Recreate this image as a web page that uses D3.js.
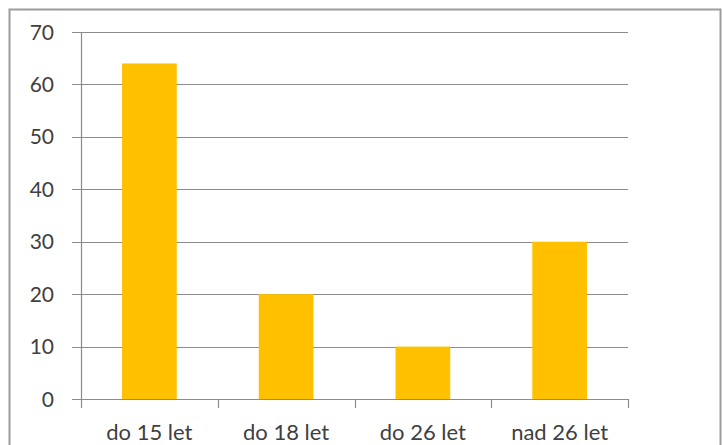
<!DOCTYPE html>
<html>
<head>
<meta charset="utf-8">
<script src="https://cdn.jsdelivr.net/npm/d3@7"></script>
<style>
  body { margin: 0; background: #fff; }
  svg { display: block; font-family: Lato, "Open Sans", sans-serif; }
</style>
</head>
<body>
<svg></svg>
<script>
let categories = ["do 15 let", "do 18 let", "do 26 let", "nad 26 let"];
let values = [64, 20, 10, 30];
let yTicks = [0, 10, 20, 30, 40, 50, 60, 70];

let width = 722;
let height = 445;
let plotLeft = 81;
let plotRight = 628;
let plotTop = 32;
let plotBottom = 399;

let svg = d3.select("svg")
    .attr("width", width)
    .attr("height", height);

// outer frame
svg.append("rect")
    .attr("x", 9.5)
    .attr("y", 9.5)
    .attr("width", 711)
    .attr("height", 460)
    .attr("fill", "none")
    .attr("stroke", "#9c9c9c")
    .attr("stroke-width", 2);

let xScale = d3.scaleBand()
    .domain(categories)
    .range([plotLeft, plotRight])
    .paddingInner(0.6)
    .paddingOuter(0.3);

let yScale = d3.scaleLinear()
    .domain([0, 70])
    .range([plotBottom, plotTop]);

// gridlines
svg.append("g")
    .selectAll("line")
    .data(yTicks)
    .enter()
    .append("line")
    .attr("x1", plotLeft - 9)
    .attr("x2", plotRight)
    .attr("y1", (d) => Math.round(yScale(d)) + 0.5)
    .attr("y2", (d) => Math.round(yScale(d)) + 0.5)
    .attr("stroke", "#8c8c8c")
    .attr("stroke-width", 1.2);

// y labels
svg.append("g")
    .selectAll("text")
    .data(yTicks)
    .enter()
    .append("text")
    .attr("x", 54)
    .attr("y", (d) => yScale(d))
    .attr("dy", "0.36em")
    .attr("text-anchor", "end")
    .attr("fill", "#404040")
    .style("font-size", "21px")
    .text((d) => d);

// bars
svg.append("g")
    .selectAll("rect")
    .data(values)
    .enter()
    .append("rect")
    .attr("x", (d, i) => xScale(categories[i]))
    .attr("width", xScale.bandwidth())
    .attr("y", (d) => yScale(d))
    .attr("height", (d) => yScale(0) - yScale(d))
    .attr("fill", "#ffc000");

// y axis line
svg.append("line")
    .attr("x1", plotLeft + 0.5)
    .attr("x2", plotLeft + 0.5)
    .attr("y1", plotTop)
    .attr("y2", plotBottom)
    .attr("stroke", "#8c8c8c")
    .attr("stroke-width", 1.2);

// x axis ticks at category boundaries
let boundaries = d3.range(categories.length + 1).map((i) => plotLeft + i * (plotRight - plotLeft) / categories.length);
svg.append("g")
    .selectAll("line")
    .data(boundaries)
    .enter()
    .append("line")
    .attr("x1", (d) => Math.round(d) + 0.5)
    .attr("x2", (d) => Math.round(d) + 0.5)
    .attr("y1", plotBottom)
    .attr("y2", plotBottom + 9)
    .attr("stroke", "#8c8c8c")
    .attr("stroke-width", 1.2);

svg.append("g")
    .selectAll("text")
    .data(categories)
    .enter()
    .append("text")
    .attr("x", (d) => xScale(d) + xScale.bandwidth() / 2)
    .attr("y", 440)
    .attr("text-anchor", "middle")
    .attr("fill", "#404040")
    .style("font-size", "22px")
    .text((d) => d);
</script>
</body>
</html>
